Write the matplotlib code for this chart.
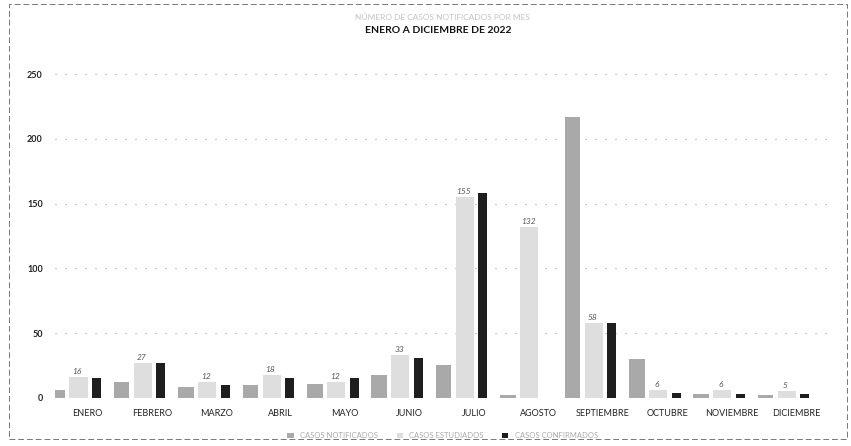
import numpy as np
import matplotlib
matplotlib.use('Agg')
import matplotlib.pyplot as plt
from matplotlib.patches import Rectangle

# Data (values are estimates)
meses = ['ENERO', 'FEBRERO', 'MARZO', 'ABRIL', 'MAYO', 'JUNIO',
         'JULIO', 'AGOSTO', 'SEPTIEMBRE', 'OCTUBRE', 'NOVIEMBRE', 'DICIEMBRE']
serie_a = [6, 12, 8, 10, 11, 18, 25, 2, 217, 30, 3, 2]
serie_b = [16, 27, 12, 18, 12, 33, 155, 132, 58, 6, 6, 5]
serie_c = [15, 27, 10, 15, 15, 31, 158, 0, 58, 4, 3, 3]
nombres = ['CASOS NOTIFICADOS', 'CASOS ESTUDIADOS', 'CASOS CONFIRMADOS']
yticks = [0, 50, 100, 150, 200, 250]

plt.rcParams['font.family'] = ['Lato', 'DejaVu Sans']

fig = plt.figure(figsize=(8.51, 4.46), dpi=100)
ax = fig.add_axes([0.065, 0.108, 0.908, 0.755])

x = np.arange(len(meses))
b1 = ax.bar(x - 0.47, serie_a, width=0.24, color='#a9a9a9', label=nombres[0], zorder=2)
b2 = ax.bar(x - 0.14, serie_b, width=0.28, color='#dedede', label=nombres[1], zorder=2)
b3 = ax.bar(x + 0.14, serie_c, width=0.14, color='#1e1e1e', label=nombres[2], zorder=2)

# labels on the middle series
for xi, v in zip(x, serie_b):
    ax.text(xi - 0.16, v + 1.5, str(v), ha='center', va='bottom',
            fontsize=6, color='#555555', style='italic')

ax.set_xlim(-0.5, len(meses) - 0.5)
ax.set_ylim(0, 260)
ax.set_yticks(yticks)
ax.set_xticks(x)
ax.set_xticklabels(meses, fontsize=6.5, color='#222222')
ax.tick_params(axis='y', labelsize=6.5, labelcolor='#222222', length=0, pad=9)
ax.tick_params(axis='x', length=0, pad=8)
for lbl in ax.get_yticklabels():
    lbl.set_fontweight('bold')
ax.grid(axis='y', linestyle=(0, (1, 8)), color='#9a9a9a', linewidth=0.8, zorder=0)
for s in ax.spines.values():
    s.set_visible(False)

fig.text(0.52, 0.955, 'NÚMERO DE CASOS NOTIFICADOS POR MES', ha='center',
         fontsize=6, color='#c4c4c4')
fig.text(0.515, 0.925, 'ENERO A DICIEMBRE DE 2022', ha='center',
         fontsize=7.5, fontweight='bold', color='#111111')

leg = fig.legend(handles=[b1, b2, b3], loc='lower center', bbox_to_anchor=(0.52, 0.0),
                 ncol=3, frameon=False, fontsize=5.5, handlelength=0.8,
                 handleheight=0.8, columnspacing=2.5)
for t in leg.get_texts():
    t.set_color('#aaaaaa')

# outer frame of the scanned chart
fig.patches.append(Rectangle((0.01, 0.015), 0.985, 0.975, transform=fig.transFigure,
                             fill=False, edgecolor='#777777', linewidth=0.7,
                             linestyle=(0, (6, 3))))

fig.savefig('out.png', dpi=100)
